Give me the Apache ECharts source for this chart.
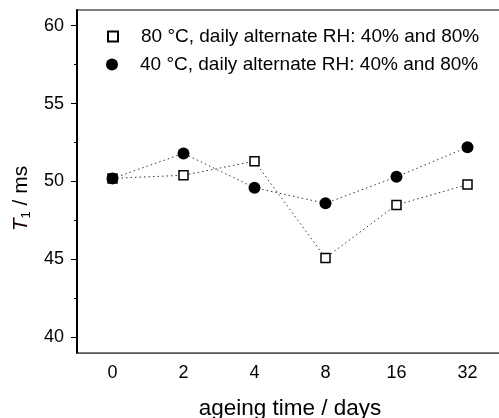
<!DOCTYPE html>
<html>
<head>
<meta charset="utf-8">
<script src="https://cdn.jsdelivr.net/npm/echarts@6/dist/echarts.min.js"></script>
<style>
  html, body { margin: 0; padding: 0; background: #fff; }
  #chart { width: 499px; height: 418px; }
</style>
</head>
<body>
<div id="chart"></div>
<script>
// ageing days (category axis)
var days = ['0', '2', '4', '8', '16', '32'];
// T1 values
var t80 = [50.2, 50.4, 51.3, 45.1, 48.5, 49.8];
var t40 = [50.2, 51.8, 49.6, 48.6, 50.3, 52.2];
var yTicks = [40, 45, 50, 55, 60];
var yMinor = [42.5, 47.5, 52.5, 57.5];

var name80 = '80 °C, daily alternate RH: 40% and 80%';
var name40 = '40 °C, daily alternate RH: 40% and 80%';

var font = 'Liberation Sans, Arial, sans-serif';
var chart = echarts.init(document.getElementById('chart'));

var option = {
  animation: false,
  textStyle: { fontFamily: font },
  grid: {
    left: 77, width: 426, top: 10, bottom: 65,
    outerBoundsMode: 'none',
    containLabel: false,
    show: true, borderColor: '#000', borderWidth: 1.2
  },
  legend: [{
    left: 107, top: 27, padding: 0,
    itemWidth: 10, itemHeight: 10,
    textStyle: { fontSize: 19, color: '#000', fontFamily: font, padding: [0, 0, 0, 18] },
    data: [{ name: name80, icon: 'rect' }]
  }, {
    left: 106, top: 55, padding: 0,
    itemWidth: 12, itemHeight: 12,
    textStyle: { fontSize: 19, color: '#000', fontFamily: font, padding: [0, 0, 0, 17] },
    data: [{ name: name40, icon: 'circle' }]
  }],
  xAxis: [{
    type: 'category',
    data: days,
    boundaryGap: true,
    axisLine: { lineStyle: { color: '#555', width: 1.2 } },
    axisTick: { alignWithLabel: true, length: 6, lineStyle: { color: '#000' } },
    axisLabel: { fontSize: 18, color: '#000', margin: 11, fontFamily: font },
    splitLine: { show: false },
    name: 'ageing time / days',
    nameLocation: 'middle',
    nameGap: 44,
    nameTextStyle: { fontSize: 22.5, color: '#000', fontFamily: font }
  }, {
    type: 'category',
    data: days,
    position: 'bottom',
    boundaryGap: true,
    axisLine: { show: false },
    axisTick: { length: 3, lineStyle: { color: '#000' } },
    axisLabel: { show: false },
    splitLine: { show: false }
  }],
  yAxis: [{
    type: 'value',
    min: 39, max: 61,
    axisLine: { show: true, lineStyle: { color: '#000', width: 2 } },
    axisTick: { show: true, length: 6, customValues: yTicks, lineStyle: { color: '#000' } },
    axisLabel: { fontSize: 18, color: '#000', margin: 13, customValues: yTicks, fontFamily: font },
    splitLine: { show: false },
    name: '{i|T}{s|1} / ms',
    nameLocation: 'middle',
    nameRotate: 90,
    nameGap: 42,
    nameTextStyle: {
      fontSize: 21, color: '#000', fontFamily: font,
      padding: [0, 34, 0, 0],
      rich: {
        i: { fontSize: 21, fontStyle: 'italic', fontFamily: font, color: '#200' },
        s: { fontSize: 13, fontFamily: font, color: '#000', padding: [10, 0, 0, 0] }
      }
    }
  }, {
    type: 'value',
    min: 39, max: 61,
    position: 'left',
    axisLine: { show: false },
    axisTick: { show: true, length: 3, customValues: yMinor, lineStyle: { color: '#000' } },
    axisLabel: { show: false },
    splitLine: { show: false }
  }],
  series: [{
    name: name80,
    type: 'line',
    data: t80,
    symbol: 'rect',
    symbolSize: 9,
    itemStyle: { color: '#fff', borderColor: '#000', borderWidth: 1.5 },
    lineStyle: { color: '#333', width: 1, type: [1.5, 3] }
  }, {
    name: name40,
    type: 'line',
    data: t40,
    symbol: 'circle',
    symbolSize: 12,
    itemStyle: { color: '#000' },
    lineStyle: { color: '#333', width: 1, type: [1.5, 3] }
  }]
};

chart.setOption(option);
</script>
</body>
</html>
